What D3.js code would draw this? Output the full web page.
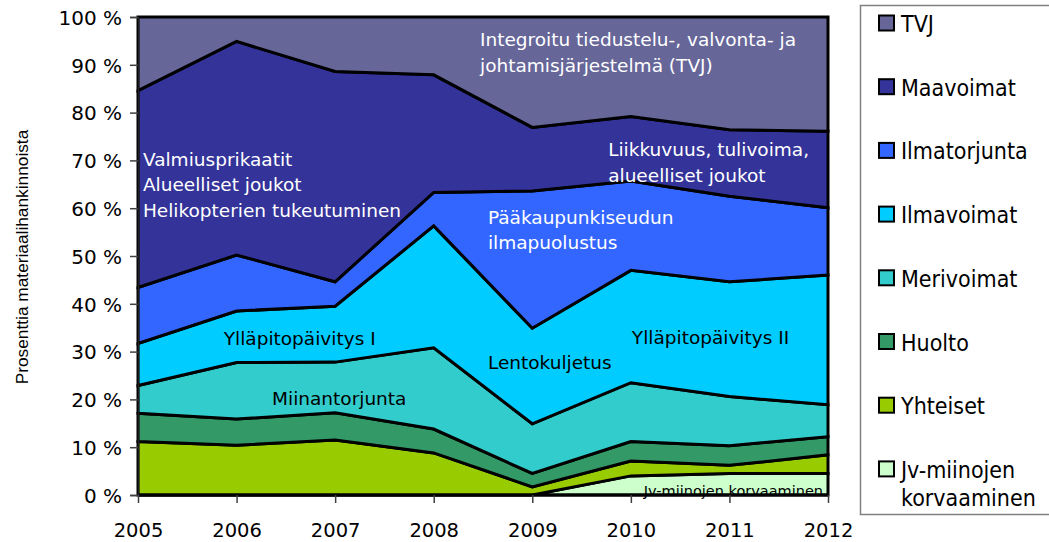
<!DOCTYPE html>
<html><head><meta charset="utf-8">
<script src="https://cdn.jsdelivr.net/npm/d3@7"></script>
<style>
html,body{margin:0;padding:0;background:#fff;}
svg{display:block;}
</style></head>
<body>
<script>
// ---- data ----
const years = [2005, 2006, 2007, 2008, 2009, 2010, 2011, 2012];
const seriesNames = ["Jv-miinojen korvaaminen", "Yhteiset", "Huolto", "Merivoimat", "Ilmavoimat", "Ilmatorjunta", "Maavoimat", "TVJ"];
const jvMiinat   = [0, 0, 0, 0, 0, 4.0, 4.5, 4.5];
const yhteiset   = [11.2, 10.4, 11.5, 8.8, 1.7, 3.1, 1.7, 3.9];
const huolto     = [5.9, 5.5, 5.7, 5.0, 2.8, 4.1, 4.1, 3.8];
const merivoimat = [5.8, 11.8, 10.6, 17.0, 10.4, 12.3, 10.3, 6.7];
const ilmavoimat = [8.8, 10.8, 11.7, 25.5, 20.0, 23.5, 24.0, 27.1];
const ilmatorjunta = [11.7, 11.7, 5.1, 7.0, 28.7, 18.7, 17.9, 14.1];
const maavoimat  = [41.2, 44.7, 44.0, 24.6, 13.3, 13.5, 13.9, 16.0];
const tvj        = [15.4, 5.1, 11.4, 12.1, 23.1, 20.8, 23.6, 23.9];
const seriesValues = [jvMiinat, yhteiset, huolto, merivoimat, ilmavoimat, ilmatorjunta, maavoimat, tvj];
const colors = ["#CCFFCC", "#99CC00", "#339966", "#33CCCC", "#00CCFF", "#3366FF", "#333399", "#666699"];
const yTicks = [0, 10, 20, 30, 40, 50, 60, 70, 80, 90, 100];
const legendLabels = [["TVJ"], ["Maavoimat"], ["Ilmatorjunta"], ["Ilmavoimat"], ["Merivoimat"], ["Huolto"], ["Yhteiset"], ["Jv-miinojen", "korvaaminen"]];
const legendColors = ["#666699", "#333399", "#3366FF", "#00CCFF", "#33CCCC", "#339966", "#99CC00", "#CCFFCC"];
const yTitle = "Prosenttia materiaalihankinnoista";
// annotations: text lines, anchor [year, percent], colour
const notes = [
  {lines: ["Integroitu tiedustelu-, valvonta- ja", "johtamisjärjestelmä (TVJ)"], at: [2008.47, 93.9], fill: "#fff"},
  {lines: ["Valmiusprikaatit", "Alueelliset joukot", "Helikopterien tukeutuminen"], at: [2005.05, 68.9], fill: "#fff"},
  {lines: ["Liikkuvuus, tulivoima,", "alueelliset joukot"], at: [2009.77, 70.9], fill: "#fff"},
  {lines: ["Pääkaupunkiseudun", "ilmapuolustus"], at: [2008.55, 56.7], fill: "#fff"},
  {lines: ["Ylläpitopäivitys I"], at: [2005.87, 31.4], fill: "#000"},
  {lines: ["Miinantorjunta"], at: [2006.36, 18.8], fill: "#000"},
  {lines: ["Lentokuljetus"], at: [2008.55, 26.4], fill: "#000"},
  {lines: ["Ylläpitopäivitys II"], at: [2010.01, 31.5], fill: "#000"}
];
const smallNote = {text: "Jv-miinojen korvaaminen", at: [2011.95, -0.2]};

// ---- chart ----
const W = 1049, H = 542;
const svg = d3.select("body").append("svg").attr("width", W).attr("height", H);
const x = d3.scaleLinear().domain([2005, 2012]).range([138, 828]);
const y = d3.scaleLinear().domain([0, 100]).range([495, 17]);
const condFont = "'DejaVu Sans Condensed', Tahoma, 'DejaVu Sans', sans-serif";
const regFont = "'DejaVu Sans', Verdana, sans-serif";

const table = years.map((yr, i) => {
  const o = {year: yr};
  seriesNames.forEach((n, k) => o[n] = seriesValues[k][i]);
  return o;
});
const layers = d3.stack().keys(seriesNames)(table);
const area = d3.area().x(d => x(d.data.year)).y0(d => y(d[0])).y1(d => y(Math.min(100, d[1])));

svg.append("g").selectAll("path").data(layers).join("path")
  .attr("d", area)
  .attr("fill", (d, i) => colors[i])
  .attr("stroke", "#000").attr("stroke-width", 3).attr("stroke-linejoin", "miter");

// annotations
const ann = svg.append("g").attr("font-family", regFont).attr("font-size", 18.5);
notes.forEach(n => {
  const t = ann.append("text").attr("fill", n.fill).attr("x", x(n.at[0])).attr("y", y(n.at[1]));
  n.lines.forEach((l, i) => t.append("tspan").attr("x", x(n.at[0])).attr("dy", i === 0 ? 0 : 25.5).text(l));
});
svg.append("text").attr("font-family", regFont).attr("font-size", 14.5).attr("fill", "#000")
  .attr("text-anchor", "end").attr("x", x(smallNote.at[0])).attr("y", y(smallNote.at[1])).text(smallNote.text);
// bottom edge drawn over small text
svg.append("line").attr("x1", x(2005)).attr("x2", x(2012)).attr("y1", y(0)).attr("y2", y(0))
  .attr("stroke", "#000").attr("stroke-width", 3);

// y axis
const yAxis = svg.append("g").attr("transform", `translate(${x(2005)},0)`)
  .call(d3.axisLeft(y).tickValues(yTicks).tickSize(8).tickFormat(d => d + " %"));
yAxis.select(".domain").attr("stroke", "#202020").attr("stroke-width", 1.5);
yAxis.selectAll(".tick line").attr("stroke", "#404040").attr("stroke-width", 1.5);
yAxis.selectAll(".tick text").attr("font-family", regFont).attr("font-size", 20).attr("fill", "#000")
  .attr("x", -16).attr("dy", "0.36em");

// x axis
const xAxis = svg.append("g").attr("transform", `translate(0,${y(0)})`)
  .call(d3.axisBottom(x).tickValues(years).tickSize(8).tickFormat(d3.format("d")));
xAxis.select(".domain").remove();
xAxis.selectAll(".tick line").attr("stroke", "#404040").attr("stroke-width", 1.5);
xAxis.selectAll(".tick text").attr("font-family", regFont).attr("font-size", 19.5).attr("fill", "#000")
  .attr("y", 42).attr("dy", "0");

// y title
svg.append("text").attr("transform", "translate(28,257) rotate(-90)")
  .attr("text-anchor", "middle").attr("font-family", "'Liberation Sans', Arial, sans-serif")
  .attr("font-size", 17.3).attr("fill", "#000").text(yTitle);

// legend
const lg = svg.append("g");
lg.append("rect").attr("x", 860.5).attr("y", 5.5).attr("width", 200).attr("height", 509)
  .attr("fill", "#fff").attr("stroke", "#808080").attr("stroke-width", 1.5);
legendLabels.forEach((lines, i) => {
  const by = 32 + i * 63.7;
  lg.append("rect").attr("x", 879).attr("y", by - 16.5).attr("width", 15).attr("height", 15)
    .attr("fill", legendColors[i]).attr("stroke", "#000").attr("stroke-width", 2);
  const t = lg.append("text").attr("font-family", condFont).attr("font-size", 23).attr("fill", "#000")
    .attr("x", 901).attr("y", by);
  lines.forEach((l, j) => t.append("tspan").attr("x", 901).attr("dy", j === 0 ? 0 : 28).text(l));
});
</script>
</body></html>
